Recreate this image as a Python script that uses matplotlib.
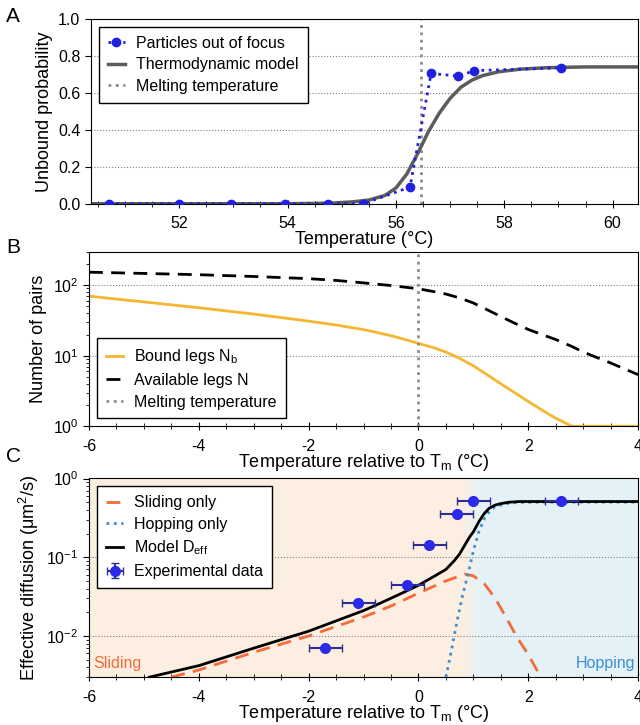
import numpy as np
import matplotlib
matplotlib.use('Agg')
import matplotlib.pyplot as plt
from matplotlib.colors import to_rgb

plt.rcParams['font.family'] = ['Liberation Sans', 'DejaVu Sans']
plt.rcParams['mathtext.fontset'] = 'custom'
plt.rcParams['mathtext.rm'] = 'Liberation Sans'
plt.rcParams['mathtext.it'] = 'Liberation Sans:italic'
plt.rcParams['axes.unicode_minus'] = False

# --- panel A: unbound probability vs temperature
temp_exp = [50.7, 52.0, 52.95, 53.95, 54.75, 55.4, 56.26, 56.65, 57.15, 57.45, 59.05]
unbound_exp = [0, 0, 0, 0, 0, 0, 0.09, 0.705, 0.69, 0.72, 0.735]
temp_model = [50.4, 54.0, 54.8, 55.2, 55.5, 55.8, 56.0, 56.2, 56.4, 56.6, 56.8,
              57.0, 57.2, 57.4, 57.6, 57.9, 58.3, 58.8, 59.5, 60.5]
unbound_model = [0, 0, 0.003, 0.01, 0.02, 0.045, 0.085, 0.16, 0.27, 0.39, 0.49,
                 0.57, 0.63, 0.668, 0.693, 0.714, 0.728, 0.736, 0.74, 0.74]
t_melt = 56.46

# --- panel B: number of pairs
dt_b = [-6, -5, -4, -3, -2, -1.5, -1, -0.5, 0, 0.25, 0.5, 0.75, 1, 1.25, 1.5, 1.75, 2,
        2.25, 2.5, 2.8, 3, 3.5, 4]
n_bound = [70, 58, 48, 39, 31, 27.3, 23.5, 19.3, 15.0, 13.2, 11.3, 9.2, 7.2, 5.4,
           4.0, 3.0, 2.25, 1.7, 1.3, 1.0, 1.0, 1.0, 1.0]
n_avail = [153, 147, 141, 133, 124, 117, 108, 99, 89, 82, 75, 66, 56, 45, 36, 29,
           23.6, 20, 17, 13.5, 11.3, 7.9, 5.4]

# --- panel C: effective diffusion
dt_slide = [-4.5, -4, -3, -2, -1, -0.5, 0, 0.5, 0.85, 1.0, 1.2, 1.4, 1.6, 1.8, 2.0, 2.23]
d_slide = [0.003, 0.0037, 0.0062, 0.0100, 0.0174, 0.024, 0.035, 0.05, 0.061,
           0.058, 0.046, 0.030, 0.017, 0.0095, 0.0058, 0.003]
dt_hop = [0.5, 0.6, 0.7, 0.8, 0.9, 1.0, 1.1, 1.2, 1.3, 1.4, 1.6, 1.8, 2.2, 4.0]
d_hop = [0.003, 0.0065, 0.015, 0.032, 0.06, 0.12, 0.21, 0.31, 0.39, 0.44, 0.48,
         0.495, 0.5, 0.5]
dt_model = [-4.9, -4, -3, -2, -1, -0.7, -0.3, 0, 0.3, 0.5, 0.65, 0.75, 0.85, 0.93,
            1.0, 1.11, 1.2, 1.29, 1.4, 1.5, 1.65, 1.84, 2.2, 4.0]
d_model = [0.003, 0.0042, 0.0070, 0.0115, 0.021, 0.026, 0.035, 0.044, 0.058, 0.07,
           0.09, 0.11, 0.145, 0.18, 0.21, 0.29, 0.36, 0.42, 0.46, 0.48, 0.5, 0.51,
           0.51, 0.51]
dt_data = [-1.7, -1.1, -0.2, 0.2, 0.7, 1.0, 2.6]
d_data = [0.0070, 0.026, 0.044, 0.145, 0.35, 0.52, 0.52]
dt_err = [0.3, 0.3, 0.3, 0.3, 0.3, 0.3, 0.3]
d_err = [0.0004, 0.0015, 0.002, 0.006, 0.015, 0.02, 0.02]

grid_kw = dict(color='#808080', linestyle=':', linewidth=0.8)
tick_fs = 11.5
label_fs = 13
leg_kw = dict(fancybox=False, edgecolor='black', framealpha=1, fontsize=11.5,
              handlelength=1.1, handletextpad=0.7, borderpad=0.55,
              labelspacing=0.42)

fig = plt.figure(figsize=(6.4, 7.25), dpi=100)


def style_axes(ax):
    ax.tick_params(axis='x', which='both', direction='inout', length=6, pad=6,
                   labelsize=tick_fs)
    ax.tick_params(axis='x', which='minor', length=5)
    ax.tick_params(axis='y', which='major', direction='out', length=4,
                   labelsize=tick_fs)
    ax.tick_params(axis='y', which='minor', direction='out', length=2.5)


# A
ax1 = fig.add_axes([0.142, 0.719, 0.855, 0.255])
for yv in [0.2, 0.4, 0.6, 0.8]:
    ax1.axhline(yv, zorder=0, **grid_kw)
ax1.plot(temp_exp, unbound_exp, ':', color='#2020e0', marker='o', ms=6, lw=2,
         label='Particles out of focus', zorder=3)
ax1.plot(temp_model, unbound_model, '-', color='#5c5c5c', lw=2.5,
         label='Thermodynamic model', zorder=2)
ax1.axvline(t_melt, color='#8c8c8c', ls=':', lw=2, label='Melting temperature',
            zorder=1)
ax1.set_xlim(50.37, 60.47)
ax1.set_ylim(0, 1)
ax1.set_xticks([52, 54, 56, 58, 60])
ax1.set_xticks(np.arange(50.5, 60.5, 0.5), minor=True)
ax1.set_yticks([0, 0.2, 0.4, 0.6, 0.8, 1.0])
style_axes(ax1)
ax1.set_xlabel('Temperature (°C)', fontsize=label_fs, labelpad=0)
ax1.set_ylabel('Unbound probability', fontsize=label_fs)
ax1.legend(loc='upper left', **leg_kw)

# B
ax2 = fig.add_axes([0.139, 0.412, 0.858, 0.241])
ax2.set_yscale('log')
for yv in [10, 100]:
    ax2.axhline(yv, zorder=0, **grid_kw)
ax2.plot(dt_b, n_bound, '-', color='#f5b731', lw=2, label='Bound legs N$_\\mathrm{b}$')
ax2.plot(dt_b, n_avail, '--', color='black', lw=2, dashes=(5, 3),
         label='Available legs N')
ax2.axvline(0, color='#8c8c8c', ls=':', lw=2, label='Melting temperature')
ax2.set_xlim(-6, 4)
ax2.set_ylim(1, 300)
ax2.set_xticks([-6, -4, -2, 0, 2, 4])
ax2.set_xticks(np.arange(-6, 4.01, 0.5), minor=True)
style_axes(ax2)
ax2.set_xlabel('Temperature relative to T$_\\mathrm{m}$ (°C)', fontsize=label_fs,
               labelpad=-1)
ax2.set_ylabel('Number of pairs', fontsize=label_fs)
ax2.legend(loc='lower left', **leg_kw)

# C
ax3 = fig.add_axes([0.139, 0.066, 0.858, 0.274])
ax3.set_yscale('log')
c_or = np.array(to_rgb('#fdeee2'))
c_bl = np.array(to_rgb('#e4f2f8'))
ax3.axvspan(-6, 0.8, color=c_or, lw=0, zorder=0)
ax3.axvspan(1.15, 4, color=c_bl, lw=0, zorder=0)
edges = np.linspace(0.8, 1.15, 15)
for i in range(len(edges) - 1):
    f = (i + 0.5) / (len(edges) - 1)
    ax3.axvspan(edges[i], edges[i + 1], color=c_or * (1 - f) + c_bl * f, lw=0,
                zorder=0)
for yv in [0.01, 0.1]:
    ax3.axhline(yv, zorder=1, **grid_kw)
ax3.plot(dt_slide, d_slide, '--', color='#f26b3a', lw=2, dashes=(5, 3),
         label='Sliding only', zorder=2)
ax3.plot(dt_hop, d_hop, ':', color='#3b8fd4', lw=2, label='Hopping only', zorder=2)
ax3.plot(dt_model, d_model, '-', color='black', lw=2,
         label='Model D$_\\mathrm{eff}$', zorder=3)
ax3.errorbar(dt_data, d_data, xerr=dt_err, yerr=d_err, fmt='o', color='#2a2ae8',
             ms=7, ecolor='#2e2e90', elinewidth=1.5, capsize=3,
             label='Experimental data', zorder=4)
ax3.text(-5.92, 0.0036, 'Sliding', color='#f26b3a', fontsize=11.5, va='bottom')
ax3.text(3.95, 0.0036, 'Hopping', color='#3b8fd4', fontsize=11.5, va='bottom',
         ha='right')
ax3.set_xlim(-6, 4)
ax3.set_ylim(0.003, 1)
ax3.set_xticks([-6, -4, -2, 0, 2, 4])
ax3.set_xticks(np.arange(-6, 4.01, 0.5), minor=True)
style_axes(ax3)
ax3.set_xlabel('Temperature relative to T$_\\mathrm{m}$ (°C)', fontsize=label_fs,
               labelpad=-1)
ax3.set_ylabel('Effective diffusion (μm$^2$/s)', fontsize=label_fs)
ax3.legend(loc='upper left', **leg_kw)

for lab, y in [('A', 0.99), ('B', 0.672), ('C', 0.384)]:
    fig.text(0.01, y, lab, fontsize=15, va='top', ha='left')

fig.savefig('out.png', dpi=100)
